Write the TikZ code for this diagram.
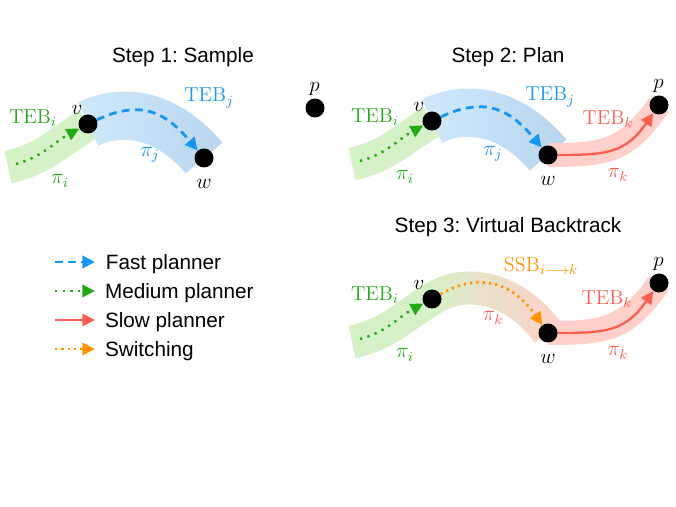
\documentclass[tikz,border=0pt]{standalone}
\usepackage{fontspec}
\newfontfamily\helv{Liberation Sans}
\usetikzlibrary{positioning, arrows.meta, calc, backgrounds}
\frenchspacing

\definecolor{fastblue}{RGB}{25,150,240}
\definecolor{medgreen}{RGB}{35,170,20}
\definecolor{slowred}{RGB}{250,95,80}
\definecolor{switchorange}{RGB}{255,148,0}
\definecolor{greenband}{RGB}{214,240,200}
\definecolor{blueband}{RGB}{207,233,250}
\definecolor{bluebandend}{RGB}{186,214,238}
\definecolor{redband}{RGB}{255,207,201}

% band of half width #5 along (#1) to[out=#3,in=#4] (#2)
\newcommand{\tebband}[6]{%
	\path[#6] ($(#1)+(#3+90:#5)$) to[out=#3, in=#4] ($(#2)+(#4-90:#5)$)
		-- ($(#2)+(#4+90:#5)$) to[out=#4, in=#3] ($(#1)+(#3-90:#5)$) -- cycle;}

\tikzset{
	>={Triangle[length=7.2pt, width=7pt]},
	dot/.style={circle, fill=black, inner sep=0pt, minimum size=3.8mm},
	lbl/.style={font=\fontsize{11.5}{13}\selectfont, inner sep=0pt},
	steptitle/.style={font=\helv\fontsize{11.8}{14}\selectfont, anchor=base, inner sep=0pt},
	legend/.style={font=\helv\fontsize{11.8}{14}\selectfont, inner sep=0pt},
	fast/.style={fastblue, line width=1.6pt, dash pattern=on 4.5pt off 3pt, ->},
	medium/.style={medgreen, line width=1.4pt, dash pattern=on 1.3pt off 3.1pt, ->},
	slow/.style={slowred, line width=1.3pt, ->},
	switching/.style={switchorange, line width=1.5pt, dash pattern=on 1.3pt off 2.3pt, ->},
}

\begin{document}
\begin{tikzpicture}[x=0.02cm, y=0.02cm]
	\useasboundingbox (0,0) rectangle (676,507);

	% step 1: sample
	\node[steptitle] (t1) at (183,444) {Step 1: Sample};
	\coordinate (g1) at (8,340);
	\coordinate (s1) at (16,343);
	\node[dot] (v1) at (88,383) {};
	\node[dot] (w1) at (204,349) {};
	\node[dot] (p1) at (315,399) {};
	\begin{scope}[on background layer]
		\tebband{g1}{v1}{12}{212}{16.5}{fill=greenband}
		\tebband{v1}{w1}{25}{130}{24}{left color=blueband, right color=bluebandend}
	\end{scope}
	\draw
		(s1) edge[medium, out=15, in=208] (v1)
		(v1) edge[fast, out=25, in=130, looseness=1.2] (w1);
	\node[lbl] (lv1) at (77,397) {$v$};
	\node[lbl] (lw1) at (204,323) {$w$};
	\node[lbl] (lp1) at (314.5,418) {$p$};
	\node[lbl, medgreen] (ti1) at (33,389) {$\mathrm{TEB}_i$};
	\node[lbl, medgreen] (pi1) at (60,326) {$\pi_i$};
	\node[lbl, fastblue] (tj1) at (209,409) {$\mathrm{TEB}_j$};
	\node[lbl, fastblue] (pj1) at (150,352) {$\pi_j$};

	% step 2: plan
	\node[steptitle] (t2) at (508,444) {Step 2: Plan};
	\begin{scope}[shift={(344,3)}]
		\coordinate (g2) at (8,340);
		\coordinate (s2) at (16,343);
		\node[dot] (v2) at (88,383) {};
		\node[dot] (w2) at (204,349) {};
		\node[dot] (p2) at (315,399) {};
		\begin{scope}[on background layer]
			\tebband{g2}{v2}{12}{212}{16.5}{fill=greenband}
			\tebband{v2}{w2}{25}{130}{24}{left color=blueband, right color=bluebandend}
			\tebband{w2}{p2}{0}{235}{12}{fill=redband, looseness=1.2}
		\end{scope}
		\draw
			(s2) edge[medium, out=15, in=208] (v2)
			(v2) edge[fast, out=25, in=130, looseness=1.2] (w2)
			(w2) edge[slow, out=0, in=235, looseness=1.2] (p2);
		\node[lbl] (lv2) at (75,397) {$v$};
		\node[lbl] (lw2) at (204,323) {$w$};
		\node[lbl] (lp2) at (314.5,418) {$p$};
		\node[lbl, medgreen] (ti2) at (31,387) {$\mathrm{TEB}_i$};
		\node[lbl, medgreen] (pi2) at (61,327) {$\pi_i$};
		\node[lbl, fastblue] (tj2) at (206,407) {$\mathrm{TEB}_j$};
		\node[lbl, fastblue] (pj2) at (149,350) {$\pi_j$};
		\node[lbl, slowred] (tk2) at (264,385) {$\mathrm{TEB}_k$};
		\node[lbl, slowred] (pk2) at (274,329) {$\pi_k$};
	\end{scope}

	% step 3: virtual backtrack
	\node[steptitle] (t3) at (508,274) {Step 3: Virtual Backtrack};
	\begin{scope}[shift={(344,-175)}]
		\coordinate (g3) at (8,340);
		\coordinate (s3) at (16,343);
		\node[dot] (v3) at (88,383) {};
		\node[dot] (w3) at (204,349) {};
		\node[dot] (p3) at (315,399) {};
		\begin{scope}[on background layer]
			\tebband{g3}{v3}{12}{212}{16.5}{fill=greenband}
			\tebband{v3}{w3}{32}{125}{16.5}{left color=greenband, right color=redband}
			\tebband{w3}{p3}{0}{235}{12}{fill=redband, looseness=1.2}
		\end{scope}
		\draw
			(s3) edge[medium, out=15, in=208] (v3)
			(v3) edge[switching, out=30, in=125, looseness=1.15] (w3)
			(w3) edge[slow, out=0, in=235, looseness=1.2] (p3);
		\node[lbl] (lv3) at (75,397) {$v$};
		\node[lbl] (lw3) at (204,323) {$w$};
		\node[lbl] (lp3) at (314.5,418) {$p$};
		\node[lbl, medgreen] (ti3) at (31,387) {$\mathrm{TEB}_i$};
		\node[lbl, medgreen] (pi3) at (61,327) {$\pi_i$};
		\node[lbl, switchorange] (sb3) at (197,416) {$\mathrm{SSB}_{i\longrightarrow k}$};
		\node[lbl, slowred] (pa3) at (149,364) {$\pi_k$};
		\node[lbl, slowred] (tk3) at (263,383) {$\mathrm{TEB}_k$};
		\node[lbl, slowred] (pk3) at (274,329) {$\pi_k$};
	\end{scope}

	% legend
	\coordinate (la1) at (55,245);   \coordinate (lb1) at (95,245);
	\coordinate (la2) at (55,216);   \coordinate (lb2) at (95,216);
	\coordinate (la3) at (55,187);   \coordinate (lb3) at (95,187);
	\coordinate (la4) at (55,158);   \coordinate (lb4) at (95,158);
	\draw[fast] (la1) -- (lb1);
	\draw[medium] (la2) -- (lb2);
	\draw[slow] (la3) -- (lb3);
	\draw[switching] (la4) -- (lb4);
	\node[legend, right=6pt of lb1, yshift=-1pt] (lt1) {Fast planner};
	\node[legend, right=5.5pt of lb2, yshift=-1pt] (lt2) {Medium planner};
	\node[legend, right=5.5pt of lb3, yshift=-1pt] (lt3) {Slow planner};
	\node[legend, right=5.5pt of lb4, yshift=-1pt] (lt4) {Switching};
\end{tikzpicture}
\end{document}
